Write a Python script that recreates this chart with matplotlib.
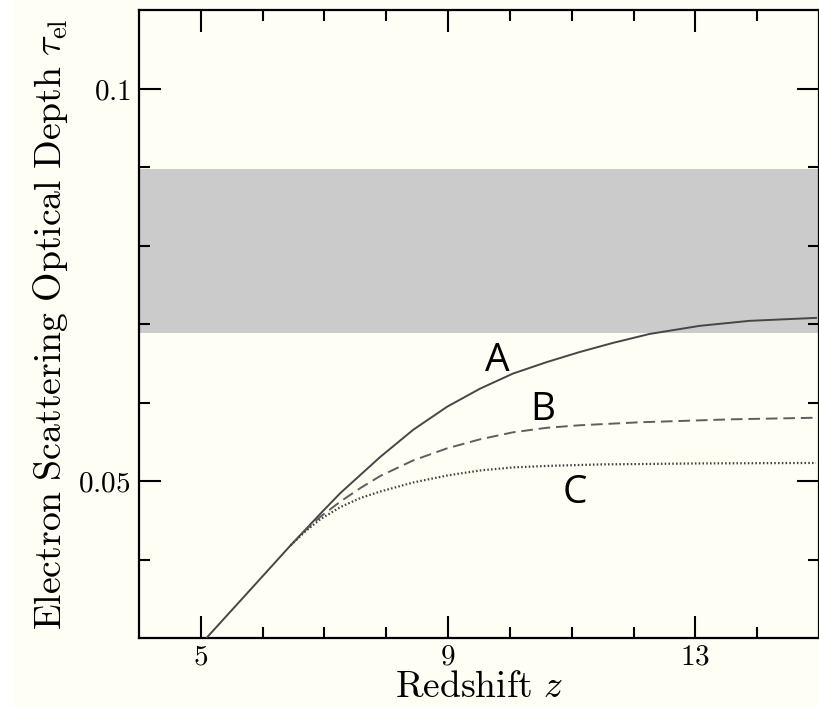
import matplotlib
matplotlib.use("Agg")
import matplotlib.pyplot as plt
from matplotlib.patches import Rectangle

plt.rcParams['mathtext.fontset'] = 'cm'

# ---- data ----
# shared early part of all three curves
z_common = [5.097, 5.806, 6.452]
tau_common = [0.03005, 0.03619, 0.04180]

# curve A (solid)
z_A = [6.935, 7.258, 7.903, 8.435, 8.984, 9.516, 10.048, 10.597, 11.129, 11.661,
       12.258, 13.065, 13.871, 14.952]
tau_A = [0.04584, 0.04847, 0.05307, 0.05652, 0.05946, 0.06176, 0.06368, 0.06515,
         0.06643, 0.06758, 0.06873, 0.06976, 0.07040, 0.07078]

# curve B (dashed)
z_B = [6.694, 6.935, 7.258, 7.581, 7.903, 8.435, 8.984, 9.516, 10.048, 10.597,
       11.129, 12.097, 13.597, 14.952]
tau_B = [0.04373, 0.04546, 0.04738, 0.04910, 0.05064, 0.05262, 0.05416, 0.05531,
         0.05620, 0.05678, 0.05710, 0.05748, 0.05786, 0.05806]

# curve C (dotted)
z_C = [6.694, 6.935, 7.258, 7.581, 7.903, 8.435, 8.984, 9.516, 10.048, 10.597,
       11.452, 13.065, 14.952]
tau_C = [0.04361, 0.04514, 0.04668, 0.04783, 0.04866, 0.04981, 0.05070, 0.05134,
         0.05173, 0.05192, 0.05211, 0.05224, 0.05230]

band_low, band_high = 0.0688, 0.0898

curve_names = ['A', 'B', 'C']
label_pos_z = [9.79, 10.53, 11.05]
label_pos_tau = [0.0653, 0.0591, 0.0485]

xticks_major = [5, 9, 13]
xtick_labels = ['5', '9', '13']
xticks_minor = [6, 7, 8, 10, 11, 12, 14]
yticks_major = [0.05, 0.1]
ytick_labels = ['0.05', '0.1']
yticks_minor = [0.04, 0.06, 0.07, 0.08, 0.09]
xlim = (4, 15)
ylim = (0.03, 0.11)

cream = '#fefef5'

fig = plt.figure(figsize=(8.2, 7.07), dpi=100, facecolor='white')
fig.patches.append(Rectangle((13 / 820, 0), 1, 1, transform=fig.transFigure,
                             facecolor=cream, edgecolor='none', zorder=-10))
ax = fig.add_axes([139 / 820, (707 - 638) / 707, (819 - 139) / 820, (638 - 10) / 707])
ax.set_facecolor(cream)

ax.axhspan(band_low, band_high, color='#cbcbcb', lw=0, zorder=0)

zA = z_common + z_A
tA = tau_common + tau_A
zB = z_common[-1:] + z_B
tB = tau_common[-1:] + tau_B
zC = z_common[-1:] + z_C
tC = tau_common[-1:] + tau_C

ax.plot(zA, tA, color='#464646', lw=1.4, zorder=3)
ax.plot(zB, tB, color='#5e5e5e', lw=1.4, dashes=(6, 3), zorder=3)
ax.plot(zC, tC, color='#404040', lw=1.6, dashes=(0.7, 1.0), zorder=3)

for name, zx, ty in zip(curve_names, label_pos_z, label_pos_tau):
    ax.text(zx, ty, name, fontsize=28, family='Open Sans', ha='center', va='center',
            color='black', zorder=4)

ax.set_xlim(*xlim)
ax.set_ylim(*ylim)

ax.set_xticks(xticks_major)
ax.set_xticklabels(['$' + s + '$' for s in xtick_labels])
ax.set_xticks(xticks_minor, minor=True)
ax.set_yticks(yticks_major)
ax.set_yticklabels(['$' + s + '$' for s in ytick_labels])
ax.set_yticks(yticks_minor, minor=True)

ax.tick_params(which='both', direction='in', top=True, right=True, color='black',
               labelsize=21)
ax.tick_params(axis='x', pad=3)
ax.tick_params(axis='y', pad=6)
ax.tick_params(which='major', length=16, width=1.5)
ax.tick_params(which='minor', length=8, width=1.5)

for s in ax.spines.values():
    s.set_linewidth(1.6)
    s.set_color('black')

ax.set_xlabel(r'$\mathrm{Redshift}\ z$', fontsize=27, labelpad=-0.5)
ax.set_ylabel(r'$\mathrm{Electron\ Scattering\ Optical\ Depth}\ \tau_{\mathrm{el}}$',
              fontsize=27.2, labelpad=6)

fig.savefig('out.png', dpi=100, facecolor=fig.get_facecolor())
